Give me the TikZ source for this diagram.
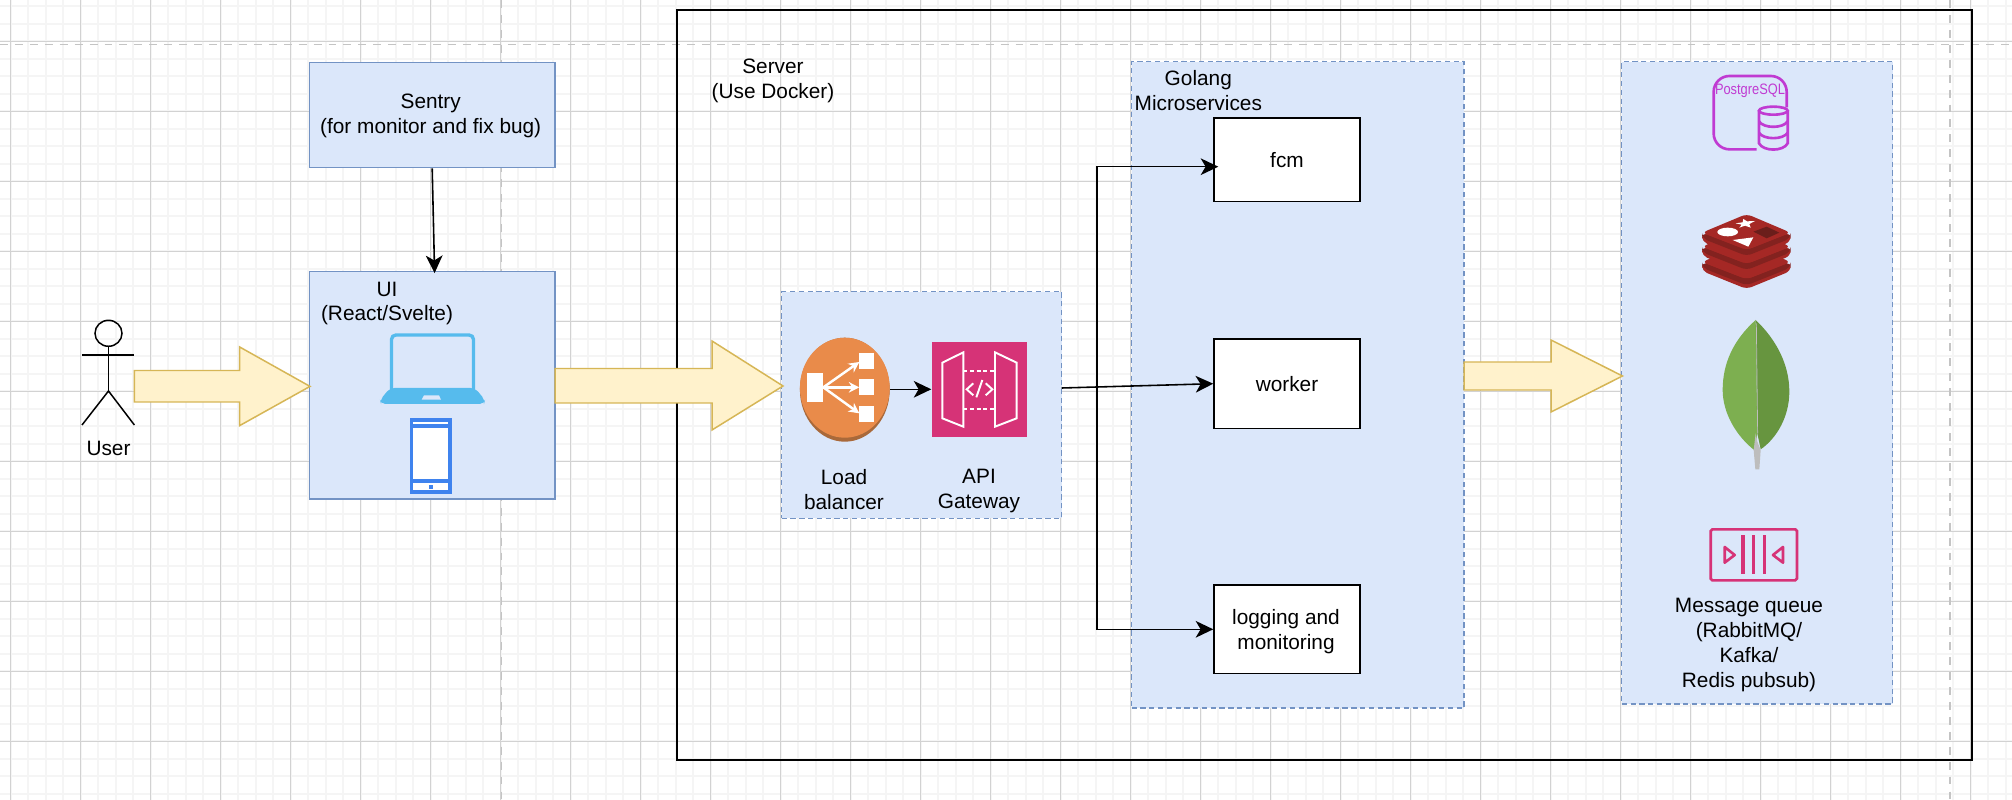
\documentclass[tikz,border=0pt]{standalone}
\usepackage{fontspec}
\setmainfont{Liberation Sans}
\usepackage{tikz}
\usetikzlibrary{arrows.meta, shapes.geometric}
\definecolor{gridminor}{HTML}{F5F5F5}
\definecolor{gridmajor}{HTML}{D2D2D2}
\definecolor{pagedash}{HTML}{C4C4C4}
\definecolor{boxfill}{HTML}{DBE7FA}
\definecolor{boxline}{HTML}{7393C4}
\definecolor{bigfill}{HTML}{FFF2CC}
\definecolor{bigline}{HTML}{D6B656}
\definecolor{laptopblue}{HTML}{56BBED}
\definecolor{phoneblue}{HTML}{3F83EE}
\definecolor{lborange}{HTML}{E98B4A}
\definecolor{lbdark}{HTML}{A9693A}
\definecolor{awspink}{HTML}{D63377}
\definecolor{pgpurple}{HTML}{C03BD2}
\definecolor{redistop}{HTML}{A52825}
\definecolor{redisside}{HTML}{83221F}
\definecolor{redishole}{HTML}{6B1E1B}
\definecolor{leaflight}{HTML}{7DAF50}
\definecolor{leafdark}{HTML}{67953F}
\definecolor{leafstem}{HTML}{BDBDBD}
\tikzset{
	lbl/.style={font=\fontsize{11.85}{14.2}\selectfont, align=center, inner sep=0pt},
	bluebox/.style={draw=boxline, fill=boxfill, line width=0.85pt, lbl},
	dashbox/.style={bluebox, densely dashed},
	whitebox/.style={draw=black, fill=white, line width=0.85pt, lbl},
	serverbox/.style={draw=black, line width=1.1pt},
	bigarrow/.style={draw=bigline, fill=bigfill, line width=0.85pt},
	conn/.style={draw=black, line width=0.9pt, -{Stealth[length=10pt, width=9.5pt, inset=2.8pt]}},
	whiteicon/.style={draw=white, line width=1.1pt},
}
\begin{document}
\begin{tikzpicture}[x=0.02cm, y=-0.02cm]
	\def\px{0.02cm}
	\clip (0,0) rectangle (2012,800);
	\fill[white] (0,0) rectangle (2012,800);

	% Page grid
	\foreach \k in {0,...,115} {
		\draw[gridminor, line width=1.1pt] ({10.7+17.5*\k},0) -- ({10.7+17.5*\k},800);
	}
	\foreach \k in {-2,...,44} {
		\draw[gridminor, line width=1.1pt] (0,{41.3+17.5*\k}) -- (2012,{41.3+17.5*\k});
	}
	\foreach \k in {0,...,28} {
		\draw[gridmajor, line width=0.75pt] ({10.7+70*\k},0) -- ({10.7+70*\k},800);
	}
	\foreach \k in {0,...,11} {
		\draw[gridmajor, line width=0.75pt] (0,{41.3+70*\k}) -- (2012,{41.3+70*\k});
	}
	\draw[pagedash, line width=1.1pt, dash pattern=on 4.5pt off 4pt] (0,44.5) -- (2012,44.5);
	\draw[pagedash, line width=1.1pt, dash pattern=on 4.5pt off 4pt] (501.5,0) -- (501.5,800);
	\draw[pagedash, line width=1.1pt, dash pattern=on 4.5pt off 4pt] (1950,0) -- (1950,800);

	% Boxes
	\node[serverbox, minimum width=1295*\px, minimum height=749.7*\px] (server) at (1324.7,384.9) {};
	\node[bluebox, minimum width=245.6*\px, minimum height=105.4*\px] (sentry) at (432.2,115) {};
	\node[bluebox, minimum width=245.6*\px, minimum height=227.7*\px] (ui) at (432.2,385.2) {};
	\node[dashbox, minimum width=280*\px, minimum height=226.6*\px] (edgebox) at (921.7,405) {};
	\node[dashbox, minimum width=332.4*\px, minimum height=646.4*\px] (golang) at (1297.8,384.8) {};
	\node[dashbox, minimum width=271*\px, minimum height=642.3*\px] (storage) at (1757.2,382.9) {};
	\node[whitebox, minimum width=146*\px, minimum height=83.5*\px] (fcm) at (1287,159.7) {fcm};
	\node[whitebox, minimum width=146*\px, minimum height=89.5*\px] (worker) at (1287,383.7) {worker};
	\node[whitebox, minimum width=146*\px, minimum height=88.6*\px] (logging) at (1287,629.3) {};

	% Free labels
	\node[lbl] (sentrylabel) at (430.7,116) {Sentry\\(for monitor and fix bug)};
	\node[lbl] (logginglabel) at (1286,632) {logging and\\monitoring};
	\node[lbl] (serverlabel) at (773,81) {Server\\(Use Docker)};
	\node[lbl] (golanglabel) at (1198.3,91) {Golang\\Microservices};
	\node[lbl] (uilabel) at (387,303.5) {UI\\(React/Svelte)};
	\node[lbl] (userlabel) at (108.5,448.7) {User};
	\node[lbl] (lblabel) at (844,490) {Load\\balancer};
	\node[lbl] (apilabel) at (979,491) {API\\Gateway};
	\node[lbl] (queuelabel) at (1749,645) {Message queue\\(RabbitMQ/\\Kafka/\\Redis pubsub)};

	% User
	\draw[black, line width=0.85pt] (108.5,333.3) ellipse (13.5 and 13);
	\draw[black, line width=0.85pt] (108.5,346.3) -- (108.5,391);
	\draw[black, line width=0.85pt] (82,355) -- (134.4,355);
	\draw[black, line width=0.85pt] (82,425) -- (108.5,391) -- (134.4,425);

	% Big arrows
	\draw[bigarrow] (134.4,370.5) -- (239.7,370.5) -- (239.7,347) -- (310,386.4) -- (239.7,425.6) -- (239.7,402) -- (134.4,402) -- cycle;
	\draw[bigarrow] (555,368.5) -- (712,368.5) -- (712,341) -- (783,386) -- (712,430) -- (712,403) -- (555,403) -- cycle;
	\draw[bigarrow] (1464,362) -- (1551,362) -- (1551,340) -- (1622.5,376) -- (1551,412) -- (1551,390) -- (1464,390) -- cycle;

	% Laptop
	\draw[laptopblue, line width=1.9pt, rounded corners=2.5pt] (391.5,389) -- (391.5,335) -- (473.5,335) -- (473.5,389);
	\fill[laptopblue, rounded corners=2.5pt] (390,388) -- (475,388) -- (485,400) -- (484,404) -- (381,404) -- (380,400) -- cycle;
	\fill[boxfill] (424,395.3) -- (439,395.3) -- (441,399.7) -- (421.7,399.7) -- cycle;

	% Phone
	\fill[phoneblue] (410,418.3) rectangle (451.7,493.7);
	\fill[white] (413.3,422) rectangle (448.3,424.3);
	\fill[white] (413.3,427.7) rectangle (448.3,479);
	\fill[white] (413.3,482.7) rectangle (448.3,490.3);
	\fill[phoneblue] (428.7,484.7) rectangle (432.7,488.7);

	% Load balancer icon
	\fill[lbdark] (844.8,389.7) ellipse (44.9 and 52);
	\node[ellipse, fill=lborange, minimum width=89.8*\px, minimum height=100*\px, inner sep=0pt] (lbicon) at (844.8,387.7) {};
	\begin{scope}[shift={(760,280)}, scale=1/3]
		\fill[white] (142,279) rectangle (190,366);
		\fill[white] (298,218) rectangle (342,268);
		\fill[white] (298,298) rectangle (342,346);
		\fill[white] (298,377) rectangle (342,426);
		\draw[white, line width=1.4pt, -{Stealth[length=6pt, width=6pt]}] (190,322) -- (298,246);
		\draw[white, line width=1.4pt, -{Stealth[length=6pt, width=6pt]}] (190,322) -- (298,322);
		\draw[white, line width=1.4pt, -{Stealth[length=6pt, width=6pt]}] (190,322) -- (298,400);
	\end{scope}

	% API gateway icon
	\node[fill=awspink, minimum width=95.3*\px, minimum height=95.3*\px, inner sep=0pt] (apiicon) at (979.3,389.3) {};
	\begin{scope}[shift={(760,280)}, scale=1/3]
		\draw[whiteicon] (547,248) -- (610,217) -- (610,440) -- (547,415) -- cycle;
		\draw[whiteicon] (705,217) -- (770,248) -- (770,415) -- (705,440) -- cycle;
		\draw[whiteicon, dash pattern=on 2.2pt off 1.6pt] (610,272) -- (705,272);
		\draw[whiteicon, dash pattern=on 2.2pt off 1.6pt] (610,388) -- (705,388);
		\draw[whiteicon] (640,310) -- (620,328) -- (640,346);
		\draw[whiteicon] (677,310) -- (697,328) -- (677,346);
		\draw[whiteicon] (667,300) -- (649,352);
	\end{scope}

	% Postgres icon
	\begin{scope}[shift={(1600,50)}, scale=1/3]
		\draw[pgpurple, line width=1.5pt, rounded corners=9pt] (560,172) -- (560,78) -- (341,78) -- (341,298) -- (470,298);
		\draw[pgpurple, line width=1.5pt] (520,182) ellipse (43 and 12);
		\draw[pgpurple, line width=1.5pt] (477,182) -- (477,280) .. controls (490,305) and (550,305) .. (563,280) -- (563,182);
		\draw[pgpurple, line width=1.5pt] (477,214) .. controls (490,236) and (550,236) .. (563,214);
		\draw[pgpurple, line width=1.5pt] (477,248) .. controls (490,270) and (550,270) .. (563,248);
	\end{scope}
	\node[font=\fontsize{8.6}{9}\selectfont, text=pgpurple, xscale=.85, transform shape, inner sep=0pt] (pglabel) at (1750,90.7) {PostgreSQL};

	% Redis icon
	\begin{scope}[shift={(1600,50)}, scale=1/3]
		\foreach \dy in {88,42,0} {
			\fill[redistop, rounded corners=3pt] (306,{575+\dy}) -- (440,{629+\dy}) -- (572,{575+\dy}) -- (572,{550+\dy}) -- (306,{550+\dy}) -- cycle;
			\fill[redisside, rounded corners=3pt] (306,{548+\dy}) -- (440,{600+\dy}) -- (572,{548+\dy}) -- (572,{565+\dy}) -- (440,{618+\dy}) -- (306,{565+\dy}) -- cycle;
			\fill[redistop, rounded corners=3pt] (306,{548+\dy}) -- (440,{492+\dy}) -- (572,{548+\dy}) -- (440,{600+\dy}) -- cycle;
		}
		\fill[white] (383,546) ellipse (31 and 13);
		\fill[white] (407,520) -- (428,517) -- (430,507) -- (441,514) -- (465,513) -- (448,522) -- (452,533) -- (435,527) -- (418,533) -- (425,524) -- cycle;
		\fill[white] (398,570) -- (460,562) -- (445,590) -- cycle;
		\fill[redishole] (460,545) -- (500,530) -- (538,548) -- (500,565) -- cycle;
	\end{scope}

	% Mongo leaf
	\begin{scope}[shift={(1600,300)}, scale=1/3]
		\fill[leaflight] (467,60) .. controls (400,120) and (368,190) .. (368,270) .. controls (368,340) and (410,410) .. (465,452) -- (472,400) -- cycle;
		\fill[leafdark] (467,60) .. controls (530,120) and (568,195) .. (568,275) .. controls (568,350) and (530,415) .. (482,448) -- (472,400) -- cycle;
		\fill[leafstem] (467,400) -- (461,450) -- (466,508) -- (478,508) -- (482,450) -- (472,425) -- cycle;
		\draw[leafstem, line width=0.4pt] (469,70) -- (473,400);
	\end{scope}

	% Queue icon
	\begin{scope}[shift={(1600,300)}, scale=1/3]
		\draw[awspink, line width=1.5pt, rounded corners=1pt] (332,688) rectangle (591,841);
		\foreach \barx in {429,461,493} {
			\draw[awspink, line width=1.8pt] (\barx,706) -- (\barx,822);
		}
		\draw[awspink, line width=1.5pt, line join=round] (374,741) -- (404,765) -- (374,788) -- cycle;
		\draw[awspink, line width=1.5pt, line join=round] (549,741) -- (519,765) -- (549,788) -- cycle;
	\end{scope}

	% Connectors
	\coordinate (gwout) at (1061.7,388);
	\coordinate (branch) at (1097,388);
	\draw[conn] (sentry.south) -- ([xshift=2.4*\px, yshift=-2.5*\px]ui.north);
	\draw[conn] (lbicon.east |- apiicon.west) -- (apiicon.west);
	\draw[conn] (gwout) -- (worker.west);
	\draw[conn] (branch) |- ([xshift=5*\px, yshift=-7*\px]fcm.west);
	\draw[conn] (branch) |- (logging.west);
\end{tikzpicture}
\end{document}
